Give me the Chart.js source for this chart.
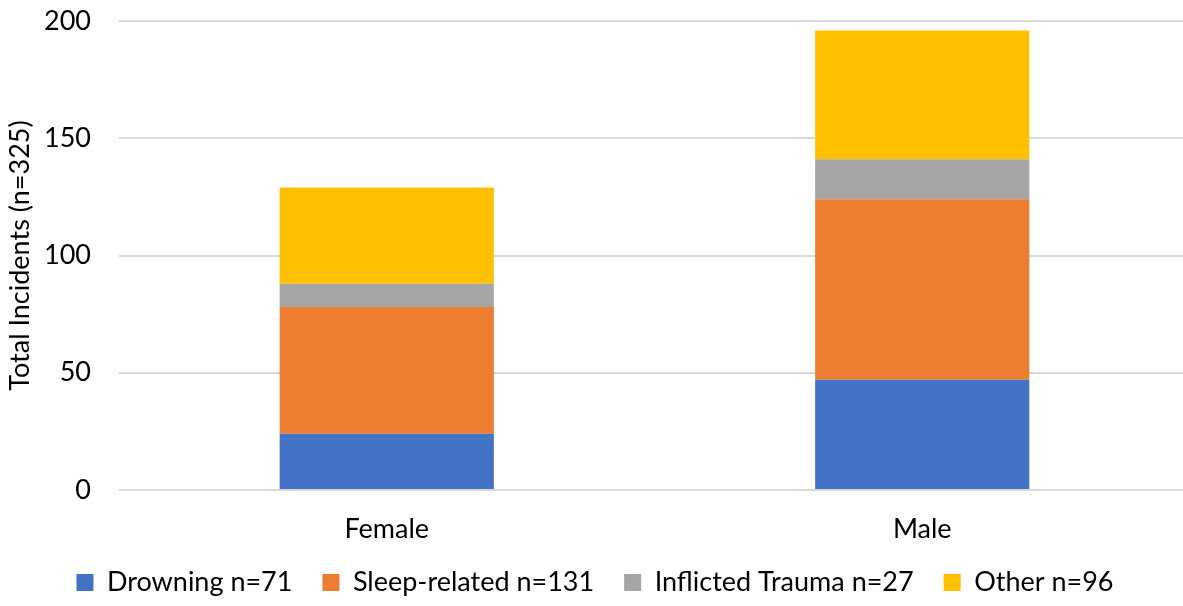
<!DOCTYPE html>
<html>
<head>
<meta charset="utf-8">
<script src="https://cdn.jsdelivr.net/npm/chart.js@4.4.0/dist/chart.umd.min.js"></script>
<style>
  html, body { margin: 0; padding: 0; background: #fff; overflow: hidden; }
  #wrap { width: 1190px; height: 606px; }
</style>
</head>
<body>
<div id="wrap"><canvas id="incidentsChart"></canvas></div>
<script>
// Chart data
const categories = ['Female', 'Male'];
const drowning = [24, 47];
const sleepRelated = [54, 77];
const inflictedTrauma = [10, 17];
const other = [41, 55];
const seriesLabels = ['Drowning n=71', 'Sleep-related n=131', 'Inflicted Trauma n=27', 'Other n=96'];
const yTicks = [0, 50, 100, 150, 200];

const FONT = 'Lato, "Open Sans", sans-serif';

const ctx = document.getElementById('incidentsChart').getContext('2d');
new Chart(ctx, {
    type: 'bar',
    data: {
        labels: categories,
        datasets: [
            { label: seriesLabels[0], data: drowning, backgroundColor: '#4472C4' },
            { label: seriesLabels[1], data: sleepRelated, backgroundColor: '#ED7D31' },
            { label: seriesLabels[2], data: inflictedTrauma, backgroundColor: '#A5A5A5' },
            { label: seriesLabels[3], data: other, backgroundColor: '#FFC000' }
        ]
    },
    options: {
        responsive: true,
        maintainAspectRatio: false,
        animation: false,
        datasets: {
            bar: {
                categoryPercentage: 1,
                barPercentage: 0.4,
                borderWidth: 0
            }
        },
        layout: {
            padding: 0
        },
        plugins: {
            legend: {
                position: 'bottom',
                labels: {
                    color: '#000',
                    font: { family: FONT, size: 27 },
                    boxWidth: 17,
                    boxHeight: 17,
                    padding: 30
                }
            },
            tooltip: { enabled: false }
        },
        scales: {
            x: {
                stacked: true,
                grid: { display: false },
                border: { display: false },
                // fixed height so the plot ends at the 0 line of the original
                afterFit: axis => { axis.height = 49; },
                ticks: {
                    color: '#000',
                    font: { family: FONT, size: 27, lineHeight: 0.7 },
                    padding: 21.5
                }
            },
            y: {
                stacked: true,
                min: 0,
                max: 200,
                afterBuildTicks: axis => { axis.ticks = yTicks.map(v => ({ value: v })); },
                afterFit: axis => {
                    axis.width = 119;
                    axis.paddingTop = 21;
                    axis.paddingBottom = 0;
                },
                grid: { color: '#d9d9d9', lineWidth: 2, drawTicks: false },
                border: { display: false },
                ticks: {
                    color: '#000',
                    font: { family: FONT, size: 27 },
                    padding: 28
                },
                title: {
                    display: true,
                    text: 'Total Incidents (n=325)',
                    color: '#000',
                    font: { family: FONT, size: 27 },
                    padding: { top: 4, bottom: 0 }
                }
            }
        }
    }
});
</script>
</body>
</html>
